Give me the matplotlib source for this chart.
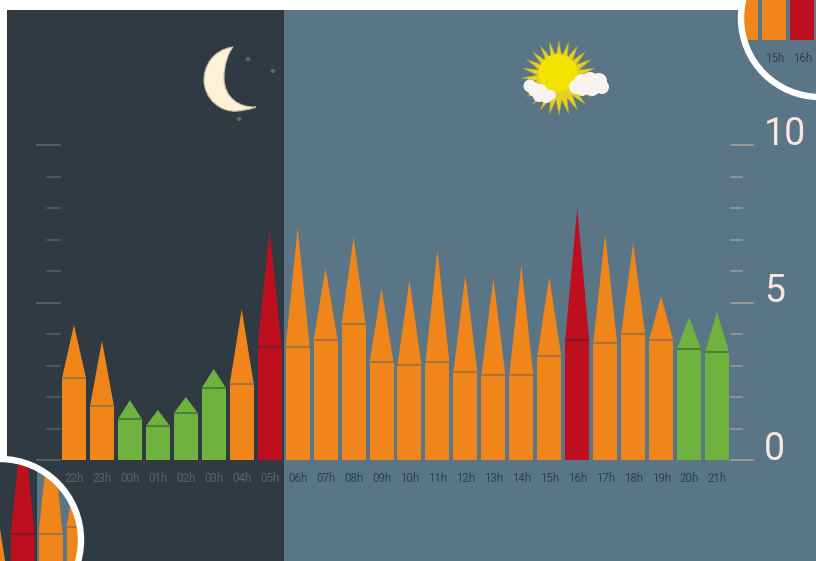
import matplotlib
matplotlib.use("Agg")
import matplotlib.pyplot as plt
import numpy as np
from matplotlib.patches import Rectangle, Circle, PathPatch, Polygon
from matplotlib.path import Path
from matplotlib.transforms import Affine2D

plt.rcParams['font.family'] = ['Roboto', 'DejaVu Sans']

# Hourly readings: body height and spire peak for each hour
hours = ["22h", "23h", "00h", "01h", "02h", "03h", "04h", "05h", "06h", "07h", "08h", "09h",
         "10h", "11h", "12h", "13h", "14h", "15h", "16h", "17h", "18h", "19h", "20h", "21h"]
body = [2.6, 1.71, 1.3, 1.08, 1.49, 2.29, 2.41, 3.59, 3.59, 3.81, 4.32, 3.11,
        3.02, 3.11, 2.79, 2.7, 2.7, 3.3, 3.81, 3.71, 4.0, 3.81, 3.52, 3.43]
peak = [4.29, 3.78, 1.9, 1.59, 2.0, 2.89, 4.79, 7.3, 7.37, 6.1, 7.08, 5.46,
        5.71, 6.67, 5.87, 5.78, 6.19, 5.81, 8.0, 7.17, 6.89, 5.2, 4.54, 4.7]
level = ["o", "o", "g", "g", "g", "g", "o", "r", "o", "o", "o", "o",
         "o", "o", "o", "o", "o", "o", "r", "o", "o", "o", "g", "g"]
scale_ticks = list(range(0, 11))
scale_labels = {0: "0", 5: "5", 10: "10"}

NIGHT = "#2f3a43"
DAY = "#5a7585"
FILL = {"o": "#f0861a", "g": "#6fb33e", "r": "#bd0f1f"}
RULE = {"o": "#a8743c", "g": "#4c7f3e", "r": "#7c1c28"}

W, H = 816, 561
fig = plt.figure(figsize=(W / 100, H / 100), dpi=100, facecolor="white")

# Pixel-space layer for the backdrop and ornaments
bg = fig.add_axes([0, 0, 1, 1], zorder=0)
bg.set_xlim(0, W)
bg.set_ylim(H, 0)
bg.axis("off")

# Data layer: hour index on x, reading on y
ax = fig.add_axes([0, 0, 1, 1], zorder=1)
ax.patch.set_alpha(0)
ax.axis("off")
PX_X = (717 - 74) / 23
PX_Y = (460 - 145) / 10
ax.set_xlim(-74 / PX_X, (W - 74) / PX_X)
ax.set_ylim(-(H - 460) / PX_Y, 460 / PX_Y)
BAR_W = 24 / PX_X

# Top layer for the magnifier rings
top = fig.add_axes([0, 0, 1, 1], zorder=2)
top.patch.set_alpha(0)
top.set_xlim(0, W)
top.set_ylim(H, 0)
top.axis("off")

bg.add_patch(Rectangle((7, 10), 277, H - 10, fc=NIGHT, ec="none"))
bg.add_patch(Rectangle((284, 10), W - 284, H - 10, fc=DAY, ec="none"))

LABEL_Y = -0.58


def draw_columns(dx=0, dy=0, lens=None):
    """Draw every hourly column, optionally shifted by (dx, dy) pixels inside a lens."""
    tr = ax.transData + Affine2D().translate(dx, -dy)
    artists = []
    for i, (b, p, k) in enumerate(zip(body, peak, level)):
        artists += ax.bar(i, b, BAR_W, color=FILL[k], linewidth=0, transform=tr, zorder=3)
        artists += ax.fill([i - BAR_W / 2, i, i + BAR_W / 2], [b, p, b],
                           color=FILL[k], linewidth=0, transform=tr, zorder=3)
        artists += ax.plot([i - BAR_W / 2, i + BAR_W / 2], [b, b], color=RULE[k],
                           lw=1.5, solid_capstyle="butt", transform=tr, zorder=4)
        # Agg does not clip glyphs to a path, so only labels well inside the lens are drawn
        keep = True
        if lens is not None:
            lx = 74 + i * PX_X + dx
            ly = 460 - LABEL_Y * PX_Y + dy
            keep = np.hypot(lx - lens[0], ly - lens[1]) < lens[2] - 8 and 0 < lx < W - 12 and ly < H
        if keep:
            hour_col = "#59646d" if i < 8 else "#2f4250"
            ax.text(i, LABEL_Y, hours[i], ha="center", va="center", fontsize=8.3,
                    color=hour_col, transform=tr, zorder=4)
    if lens is not None:
        clip = lens[3]
        for a in artists:
            a.set_clip_path(clip)


draw_columns()

# Scales on both sides of the chart
for v in scale_ticks:
    major = v % 5 == 0
    lx = (37 if major else 47, 60)
    rx = (731, 753 if major else 742)
    ax.plot([(lx[0] - 74) / PX_X, (lx[1] - 74) / PX_X], [v, v], color="#5f5d63",
            lw=1.3 if major else 1.1, zorder=2)
    ax.plot([(rx[0] - 74) / PX_X, (rx[1] - 74) / PX_X], [v, v], color="#a39a9c",
            lw=1.3 if major else 1.1, zorder=2)
for v, s in scale_labels.items():
    ax.text((764 - 74) / PX_X, v, s, ha="left", va="baseline", fontsize=27,
            color="#f6e6df", zorder=4)

# Crescent moon and stars
moon = Path(
    [(233, 47), (212, 50), (204, 67), (204, 80), (204, 98), (220, 113), (238, 111),
     (245, 110), (252, 109), (256, 107), (240, 108), (224, 98), (224, 78),
     (224, 65), (228, 53), (233, 47), (233, 47)],
    [Path.MOVETO] + [Path.CURVE4] * 15 + [Path.CLOSEPOLY])
bg.add_patch(PathPatch(moon, fc="#fdf2d6", ec="#c9bea6", lw=0.8))
for sx, sy in [(248, 59), (273, 71), (239, 119)]:
    bg.add_patch(Circle((sx, sy), 2.2, fc="#5d6871", ec="none"))

# Sun with spiky rays behind two small clouds
cx, cy = 559, 78
n = 24
angles = np.linspace(0, 2 * np.pi, 2 * n, endpoint=False)
radii = np.where(np.arange(2 * n) % 2 == 0, 37, 22)
bg.add_patch(Polygon(np.c_[cx + radii * np.cos(angles), cy + radii * np.sin(angles)],
                     closed=True, fc="#e3d225", ec="#a99f3c", lw=0.5))
bg.add_patch(Circle((cx - 1, cy - 5), 19, fc="#f3e400", ec="none"))
for c in [(576, 87, 7), (582, 83, 9), (590, 81, 9), (599, 81, 8), (602, 87, 7), (592, 88, 8), (582, 90, 6),
          (530, 86, 6.5), (535, 90, 7), (541, 90, 6), (546, 96, 7), (539, 96, 6), (551, 95, 5)]:
    bg.add_patch(Circle(c[:2], c[2], fc="#f8f2f0", ec="none"))

# Magnified details in the corners, each a shifted copy of the columns
for (ccx, ccy, r, dx, dy, with_night) in [(0, 540, 81, -247, 187, True), (820, 18, 79, 225, -420, False)]:
    clip = Circle((ccx, ccy), r, transform=top.transData)
    ax.add_patch(Rectangle((-10, -10), 60, 60, fc=DAY, ec="none", zorder=2.5, clip_path=clip))
    if with_night:
        shade = Rectangle((0, 450), 37, 111, fc=NIGHT, ec="none", transform=top.transData, zorder=2.6)
        ax.add_patch(shade)
        shade.set_clip_path(clip)
    draw_columns(dx, dy, (ccx, ccy, r, clip))
    top.add_patch(Circle((ccx, ccy), r, fc="none", ec="white", lw=4.6))

fig.savefig("out.png", dpi=100)
